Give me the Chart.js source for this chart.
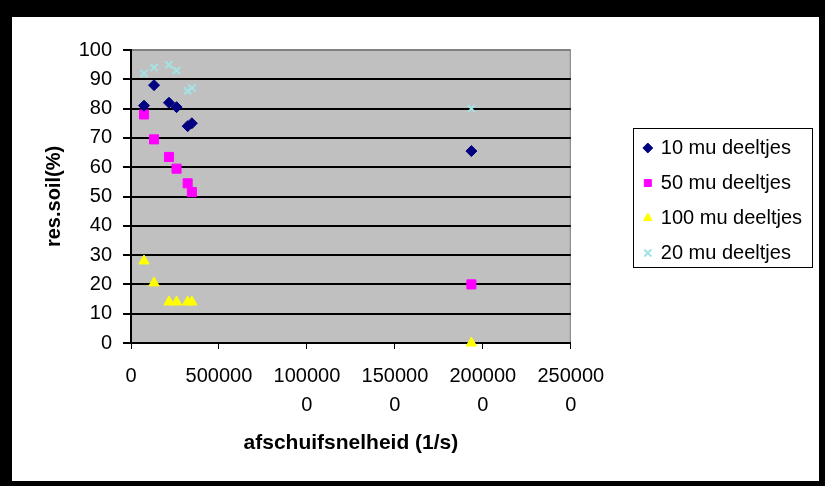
<!DOCTYPE html>
<html>
<head>
<meta charset="utf-8">
<title>res.soil</title>
<script src="https://cdn.jsdelivr.net/npm/chart.js@4.4.1/dist/chart.umd.min.js"></script>
<style>
  html, body { margin: 0; padding: 0; background: #000; }
  body { width: 825px; height: 486px; position: relative; overflow: hidden; }
  #frame { position: absolute; left: 12px; top: 17px; width: 807px; height: 464px; background: #fff; }
</style>
</head>
<body>
<div id="frame"><canvas id="soilChart"></canvas></div>
<script>
// afschuifsnelheid (1/s) van de meetpunten
const shearRates = [74000, 131000, 216000, 259000, 322000, 346000, 1935000];

// res.soil (%) per deeltjesgrootte
const soil10 = [81, 88, 82, 80.5, 74, 75, 65.5];
const soil50 = [78, 69.5, 63.5, 59.5, 54.5, 51.5, 20];
const soil100 = [28, 20.5, 14, 14, 14, 14, 0];
const soil20 = [92, 94, 95, 93, 86, 87, 80];

const seriesNames = ['10 mu deeltjes', '50 mu deeltjes', '100 mu deeltjes', '20 mu deeltjes'];

// as-instellingen
const xMin = 0, xMax = 2500000, xStep = 500000;
const yMin = 0, yMax = 100, yStep = 10;

const FONT = "Arial, 'Liberation Sans', sans-serif";

function points(ys) {
  return ys.map((y, i) => ({ x: shearRates[i], y: y }));
}

// grijs plotvlak met rand
const plotBackground = {
  id: 'plotBackground',
  beforeDraw(chart) {
    const { ctx, chartArea: a } = chart;
    ctx.save();
    ctx.fillStyle = '#c0c0c0';
    ctx.fillRect(a.left, a.top, a.width, a.height);
    ctx.strokeStyle = '#808080';
    ctx.lineWidth = 1;
    ctx.strokeRect(a.left + 0.5, a.top + 0.5, a.width - 1, a.height);
    ctx.restore();
  }
};

// kader om de legenda
const legendBox = {
  id: 'legendBox',
  afterDraw(chart) {
    const lg = chart.legend;
    const hb = lg.legendHitBoxes;
    if (!hb || !hb.length) return;
    const ctx = chart.ctx;
    const last = hb[hb.length - 1];
    const top = Math.round(hb[0].top - 10);
    const bottom = Math.round(last.top + last.height + 4);
    const left = Math.round(lg.left + 3);
    const right = Math.round(lg.right);
    ctx.save();
    ctx.strokeStyle = '#000';
    ctx.lineWidth = 1;
    ctx.strokeRect(left + 0.5, top + 0.5, right - left, bottom - top);
    ctx.restore();
  }
};

new Chart(document.getElementById('soilChart'), {
  type: 'scatter',
  data: {
    datasets: [
      {
        label: seriesNames[0], data: points(soil10),
        pointStyle: 'rectRot', pointRadius: 5.5, pointHoverRadius: 5.5,
        backgroundColor: '#000080', borderColor: '#000080', borderWidth: 1
      },
      {
        label: seriesNames[1], data: points(soil50),
        pointStyle: 'rect', pointRadius: 6.4, pointHoverRadius: 6.4,
        backgroundColor: '#ff00ff', borderColor: '#ff00ff', borderWidth: 1
      },
      {
        label: seriesNames[2], data: points(soil100), clip: 10,
        pointStyle: 'triangle', pointRadius: 6, pointHoverRadius: 6,
        backgroundColor: '#ffff00', borderColor: '#ffff00', borderWidth: 1
      },
      {
        label: seriesNames[3], data: points(soil20),
        pointStyle: 'crossRot', pointRadius: 5, pointHoverRadius: 5,
        backgroundColor: '#a3e3e3', borderColor: '#a3e3e3', borderWidth: 2
      }
    ]
  },
  options: {
    responsive: true,
    maintainAspectRatio: false,
    animation: false,
    layout: { padding: { top: 33, right: 7, bottom: 0, left: 0 } },
    plugins: {
      tooltip: { enabled: false },
      legend: {
        position: 'right',
        fullSize: false,
        maxWidth: 200,
        // lege titel schuift de items iets omlaag
        title: { display: true, text: ' ', font: { size: 4, lineHeight: 1 }, padding: 2 },
        labels: {
          usePointStyle: true,
          boxWidth: 6,
          boxHeight: 7,
          padding: 15,
          color: '#000',
          font: { family: FONT, size: 20 }
        }
      }
    },
    scales: {
      x: {
        type: 'linear',
        min: xMin, max: xMax,
        afterFit(scale) { scale.height = 138; },
        ticks: {
          stepSize: xStep,
          color: '#000',
          padding: 13,
          maxRotation: 0,
          font: { family: FONT, size: 20, lineHeight: 1.45 },
          callback(value) {
            const s = String(value);
            return s.length > 6 ? [s.slice(0, 6), s.slice(6)] : s;
          }
        },
        grid: { drawOnChartArea: false, drawTicks: true, tickLength: 6, color: '#000', lineWidth: 1 },
        border: { color: '#000', width: 2 },
        title: {
          display: true,
          text: 'afschuifsnelheid (1/s)',
          color: '#000',
          font: { family: FONT, size: 21, weight: 'bold' },
          padding: { top: 0, bottom: 25 }
        }
      },
      y: {
        type: 'linear',
        min: yMin, max: yMax,
        afterFit(scale) { scale.width = 119; },
        ticks: {
          stepSize: yStep,
          color: '#000',
          padding: 11,
          font: { family: FONT, size: 20 }
        },
        grid: {
          color: (c) => (c.tick && c.tick.value === yMax ? '#808080' : '#000'),
          tickColor: '#000',
          lineWidth: 2,
          tickLength: 8
        },
        border: { color: '#000', width: 2 },
        title: {
          display: true,
          text: 'res.soil(%)',
          color: '#000',
          font: { family: FONT, size: 20, weight: 'bold' },
          padding: { top: 30, bottom: 0 }
        }
      },
      // ruimte tussen plotvlak en legenda
      gap: {
        type: 'linear',
        position: 'right',
        afterFit(scale) { scale.width = 59; },
        ticks: { display: false },
        grid: { display: false },
        border: { display: false }
      }
    }
  },
  plugins: [plotBackground, legendBox]
});
</script>
</body>
</html>
